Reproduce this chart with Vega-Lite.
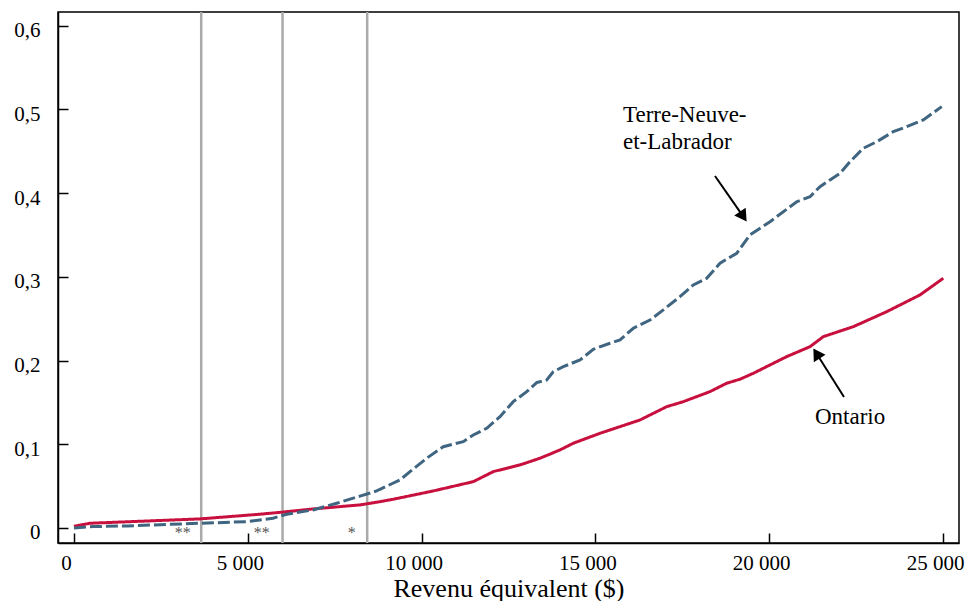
{
  "$schema": "https://vega.github.io/schema/vega-lite/v6.json",
  "width": 901,
  "height": 531,
  "autosize": {"type": "none"},
  "padding": {"left": 58, "top": 12, "right": 10, "bottom": 58},
  "background": "white",
  "config": {
    "font": "Liberation Serif",
    "text": {"font": "Liberation Serif"},
    "axis": {"labelFont": "Liberation Serif", "titleFont": "Liberation Serif"},
    "view": {"stroke": "black", "strokeWidth": 1.5}
  },
  "datasets": {
    "curves": [
      {"series": "Ontario", "x": 0, "y": 0.002},
      {"series": "Ontario", "x": 460, "y": 0.0056},
      {"series": "Ontario", "x": 3625, "y": 0.0108},
      {"series": "Ontario", "x": 5351, "y": 0.0164},
      {"series": "Ontario", "x": 5975, "y": 0.0188},
      {"series": "Ontario", "x": 6876, "y": 0.0227},
      {"series": "Ontario", "x": 8228, "y": 0.0275},
      {"series": "Ontario", "x": 8803, "y": 0.0314},
      {"series": "Ontario", "x": 9186, "y": 0.0343},
      {"series": "Ontario", "x": 10337, "y": 0.0442},
      {"series": "Ontario", "x": 11487, "y": 0.0553},
      {"series": "Ontario", "x": 12063, "y": 0.0673},
      {"series": "Ontario", "x": 12831, "y": 0.0753},
      {"series": "Ontario", "x": 13406, "y": 0.0833},
      {"series": "Ontario", "x": 13982, "y": 0.0932},
      {"series": "Ontario", "x": 14364, "y": 0.1012},
      {"series": "Ontario", "x": 15132, "y": 0.1131},
      {"series": "Ontario", "x": 16283, "y": 0.129},
      {"series": "Ontario", "x": 17051, "y": 0.1449},
      {"series": "Ontario", "x": 17529, "y": 0.1509},
      {"series": "Ontario", "x": 18297, "y": 0.1629},
      {"series": "Ontario", "x": 18777, "y": 0.1729},
      {"series": "Ontario", "x": 19160, "y": 0.1777},
      {"series": "Ontario", "x": 19543, "y": 0.1848},
      {"series": "Ontario", "x": 20503, "y": 0.2047},
      {"series": "Ontario", "x": 21174, "y": 0.2166},
      {"series": "Ontario", "x": 21557, "y": 0.2286},
      {"series": "Ontario", "x": 22420, "y": 0.2405},
      {"series": "Ontario", "x": 23380, "y": 0.2584},
      {"series": "Ontario", "x": 24338, "y": 0.2784},
      {"series": "Ontario", "x": 25009, "y": 0.2984},
      {"series": "Terre-Neuve-et-Labrador", "x": 0, "y": 0.0},
      {"series": "Terre-Neuve-et-Labrador", "x": 547, "y": 0.0016},
      {"series": "Terre-Neuve-et-Labrador", "x": 1525, "y": 0.0024},
      {"series": "Terre-Neuve-et-Labrador", "x": 3625, "y": 0.0056},
      {"series": "Terre-Neuve-et-Labrador", "x": 4968, "y": 0.0075},
      {"series": "Terre-Neuve-et-Labrador", "x": 5725, "y": 0.0116},
      {"series": "Terre-Neuve-et-Labrador", "x": 6119, "y": 0.0164},
      {"series": "Terre-Neuve-et-Labrador", "x": 6876, "y": 0.0215},
      {"series": "Terre-Neuve-et-Labrador", "x": 7558, "y": 0.0295},
      {"series": "Terre-Neuve-et-Labrador", "x": 8228, "y": 0.038},
      {"series": "Terre-Neuve-et-Labrador", "x": 8708, "y": 0.0442},
      {"series": "Terre-Neuve-et-Labrador", "x": 8803, "y": 0.0462},
      {"series": "Terre-Neuve-et-Labrador", "x": 9379, "y": 0.0573},
      {"series": "Terre-Neuve-et-Labrador", "x": 9666, "y": 0.0673},
      {"series": "Terre-Neuve-et-Labrador", "x": 10147, "y": 0.0833},
      {"series": "Terre-Neuve-et-Labrador", "x": 10624, "y": 0.0971},
      {"series": "Terre-Neuve-et-Labrador", "x": 11200, "y": 0.1031},
      {"series": "Terre-Neuve-et-Labrador", "x": 11487, "y": 0.1111},
      {"series": "Terre-Neuve-et-Labrador", "x": 11873, "y": 0.1191},
      {"series": "Terre-Neuve-et-Labrador", "x": 12255, "y": 0.133},
      {"series": "Terre-Neuve-et-Labrador", "x": 12638, "y": 0.1509},
      {"series": "Terre-Neuve-et-Labrador", "x": 13024, "y": 0.1628},
      {"series": "Terre-Neuve-et-Labrador", "x": 13311, "y": 0.1736},
      {"series": "Terre-Neuve-et-Labrador", "x": 13599, "y": 0.1768},
      {"series": "Terre-Neuve-et-Labrador", "x": 13789, "y": 0.1867},
      {"series": "Terre-Neuve-et-Labrador", "x": 14077, "y": 0.1927},
      {"series": "Terre-Neuve-et-Labrador", "x": 14557, "y": 0.2007},
      {"series": "Terre-Neuve-et-Labrador", "x": 14939, "y": 0.2135},
      {"series": "Terre-Neuve-et-Labrador", "x": 15420, "y": 0.2207},
      {"series": "Terre-Neuve-et-Labrador", "x": 15708, "y": 0.2246},
      {"series": "Terre-Neuve-et-Labrador", "x": 16090, "y": 0.2386},
      {"series": "Terre-Neuve-et-Labrador", "x": 16571, "y": 0.2485},
      {"series": "Terre-Neuve-et-Labrador", "x": 16953, "y": 0.2605},
      {"series": "Terre-Neuve-et-Labrador", "x": 17433, "y": 0.2764},
      {"series": "Terre-Neuve-et-Labrador", "x": 17816, "y": 0.2903},
      {"series": "Terre-Neuve-et-Labrador", "x": 18202, "y": 0.2983},
      {"series": "Terre-Neuve-et-Labrador", "x": 18585, "y": 0.3163},
      {"series": "Terre-Neuve-et-Labrador", "x": 19065, "y": 0.3282},
      {"series": "Terre-Neuve-et-Labrador", "x": 19448, "y": 0.3501},
      {"series": "Terre-Neuve-et-Labrador", "x": 20023, "y": 0.3659},
      {"series": "Terre-Neuve-et-Labrador", "x": 20791, "y": 0.3898},
      {"series": "Terre-Neuve-et-Labrador", "x": 21174, "y": 0.3958},
      {"series": "Terre-Neuve-et-Labrador", "x": 21461, "y": 0.4078},
      {"series": "Terre-Neuve-et-Labrador", "x": 21749, "y": 0.4158},
      {"series": "Terre-Neuve-et-Labrador", "x": 22037, "y": 0.4238},
      {"series": "Terre-Neuve-et-Labrador", "x": 22325, "y": 0.4376},
      {"series": "Terre-Neuve-et-Labrador", "x": 22707, "y": 0.4537},
      {"series": "Terre-Neuve-et-Labrador", "x": 23093, "y": 0.4615},
      {"series": "Terre-Neuve-et-Labrador", "x": 23570, "y": 0.4735},
      {"series": "Terre-Neuve-et-Labrador", "x": 23956, "y": 0.4795},
      {"series": "Terre-Neuve-et-Labrador", "x": 24433, "y": 0.4875},
      {"series": "Terre-Neuve-et-Labrador", "x": 24963, "y": 0.5034}
    ],
    "cutoffs": [{"x": 3660}, {"x": 6000}, {"x": 8435}],
    "stars": [
      {"x": 3127, "y": -0.012, "label": "**"},
      {"x": 5400, "y": -0.012, "label": "**"},
      {"x": 7989, "y": -0.012, "label": "*"}
    ],
    "labels": [
      {"x": 15794, "y": 0.4851, "label": "Terre-Neuve-"},
      {"x": 15794, "y": 0.4528, "label": "et-Labrador"},
      {"x": 21317, "y": 0.1243, "label": "Ontario"}
    ],
    "arrows": [
      {"x": 18441, "y": 0.4205, "x2": 19255, "y2": 0.372, "angle": -34},
      {"x": 22152, "y": 0.1565, "x2": 21361, "y2": 0.2085, "angle": 148}
    ]
  },
  "layer": [
    {
      "data": {"name": "cutoffs"},
      "mark": {"type": "rule", "color": "#aaaaaa", "strokeWidth": 2.5},
      "encoding": {
        "x": {
          "field": "x",
          "type": "quantitative",
          "title": "Revenu équivalent ($)",
          "scale": {"domain": [-460, 25460], "nice": false, "zero": false},
          "axis": {
            "values": [0, 5000, 10000, 15000, 20000, 25000],
            "labelExpr": "replace(format(datum.value, ',d'), ',', ' ')",
            "grid": false,
            "domainColor": "black",
            "domainWidth": 1.5,
            "tickColor": "black",
            "tickWidth": 1.5,
            "tickSize": -10,
            "labelFont": "Liberation Serif",
            "labelFontSize": 21,
            "labelColor": "black",
            "labelPadding": 19,
            "labelOffset": -8,
            "labelFlush": false,
            "titleFont": "Liberation Serif",
            "titleFontSize": 26,
            "titleFontWeight": "normal",
            "titleColor": "black",
            "titlePadding": 2
          }
        }
      }
    },
    {
      "data": {"name": "curves"},
      "mark": {"type": "line", "strokeWidth": 3},
      "encoding": {
        "x": {"field": "x", "type": "quantitative"},
        "y": {
          "field": "y",
          "type": "quantitative",
          "title": null,
          "scale": {"domain": [-0.018, 0.6165], "nice": false, "zero": false},
          "axis": {
            "values": [0, 0.1, 0.2, 0.3, 0.4, 0.5, 0.6],
            "labelExpr": "datum.value == 0 ? '0' : replace(format(datum.value, '.1f'), '.', ',')",
            "grid": false,
            "domainColor": "black",
            "domainWidth": 1.5,
            "tickColor": "black",
            "tickWidth": 1.5,
            "tickSize": -10,
            "labelFont": "Liberation Serif",
            "labelFontSize": 21,
            "labelColor": "black",
            "labelPadding": 28,
            "labelOffset": 5,
            "labelFlush": false
          }
        },
        "color": {
          "field": "series",
          "type": "nominal",
          "scale": {"domain": ["Ontario", "Terre-Neuve-et-Labrador"], "range": ["#c8103e", "#3f6580"]},
          "legend": null
        },
        "strokeDash": {
          "field": "series",
          "type": "nominal",
          "scale": {"domain": ["Ontario", "Terre-Neuve-et-Labrador"], "range": [[1, 0], [12, 4]]},
          "legend": null
        }
      }
    },
    {
      "data": {"name": "stars"},
      "mark": {"type": "text", "font": "Liberation Serif", "fontSize": 16, "color": "#555555", "baseline": "alphabetic", "align": "center"},
      "encoding": {
        "x": {"field": "x", "type": "quantitative"},
        "y": {"field": "y", "type": "quantitative"},
        "text": {"field": "label"}
      }
    },
    {
      "data": {"name": "labels"},
      "mark": {"type": "text", "font": "Liberation Serif", "fontSize": 23, "color": "black", "baseline": "alphabetic", "align": "left"},
      "encoding": {
        "x": {"field": "x", "type": "quantitative"},
        "y": {"field": "y", "type": "quantitative"},
        "text": {"field": "label"}
      }
    },
    {
      "data": {"name": "arrows"},
      "mark": {"type": "rule", "color": "black", "strokeWidth": 2},
      "encoding": {
        "x": {"field": "x", "type": "quantitative"},
        "y": {"field": "y", "type": "quantitative"},
        "x2": {"field": "x2"},
        "y2": {"field": "y2"}
      }
    },
    {
      "data": {"name": "arrows"},
      "mark": {"type": "point", "shape": "triangle-down", "filled": true, "color": "black", "size": 190, "opacity": 1},
      "encoding": {
        "x": {"field": "x2", "type": "quantitative"},
        "y": {"field": "y2", "type": "quantitative"},
        "angle": {"field": "angle", "type": "quantitative", "scale": null}
      }
    }
  ]
}
